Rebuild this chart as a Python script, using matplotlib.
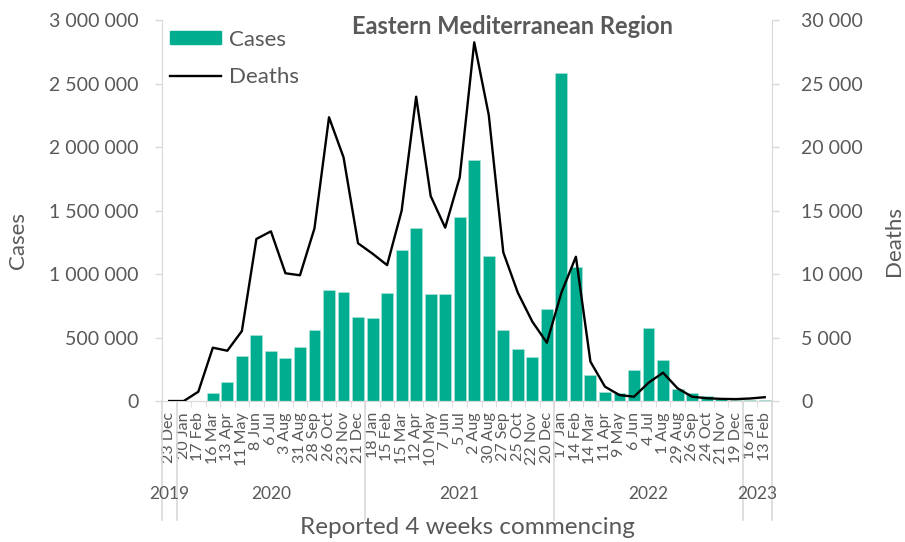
import numpy as np
import matplotlib.pyplot as plt
from matplotlib.ticker import FuncFormatter
from matplotlib.transforms import blended_transform_factory
from matplotlib.patches import Patch
from matplotlib.lines import Line2D

plt.rcParams["font.family"] = ["Lato", "DejaVu Sans"]

# 4-week periods (day month), grouped by year
periods = ["23 Dec",
           "20 Jan", "17 Feb", "16 Mar", "13 Apr", "11 May", "8 Jun", "6 Jul",
           "3 Aug", "31 Aug", "28 Sep", "26 Oct", "23 Nov", "21 Dec",
           "18 Jan", "15 Feb", "15 Mar", "12 Apr", "10 May", "7 Jun", "5 Jul",
           "2 Aug", "30 Aug", "27 Sep", "25 Oct", "22 Nov", "20 Dec",
           "17 Jan", "14 Feb", "14 Mar", "11 Apr", "9 May", "6 Jun", "4 Jul",
           "1 Aug", "29 Aug", "26 Sep", "24 Oct", "21 Nov", "19 Dec",
           "16 Jan", "13 Feb"]
years = ["2019", "2020", "2021", "2022", "2023"]
year_counts = [1, 13, 13, 13, 2]

cases = [0, 0, 2000, 66000, 147000, 357000, 517000, 391000,
         336000, 425000, 557000, 872000, 856000, 659000,
         651000, 848000, 1190000, 1360000, 840000, 846000, 1450000,
         1898000, 1144000, 562000, 409000, 349000, 724000,
         2585000, 1057000, 202000, 73000, 66000, 244000, 572000,
         323000, 97000, 60000, 39000, 15000, 8000,
         5000, 5000]
deaths = [0, 0, 730, 4200, 3960, 5510, 12760, 13360,
          10060, 9900, 13600, 22340, 19190, 12420,
          11600, 10700, 14980, 23960, 16140, 13650, 17610,
          28240, 22520, 11710, 8530, 6250, 4590,
          8530, 11360, 3100, 1130, 470, 340, 1440,
          2230, 1000, 340, 220, 170, 150,
          200, 300]

TEAL = "#00AE8F"
GRAY_TXT = "#595959"
GRAY_LINE = "#D9D9D9"


def spaced(v, pos):
    return f"{int(v):,}".replace(",", " ")


fig = plt.figure(figsize=(9.05, 5.42), dpi=100)
ax = fig.add_axes([0.179, 0.2601, 0.674, 0.703])
ax2 = ax.twinx()

x = np.arange(len(periods))
ax.bar(x, cases, width=0.82, color=TEAL, edgecolor="#B8E6DC", linewidth=0.4,
       zorder=2)
ax2.plot(x, deaths, color="black", linewidth=1.7, zorder=3)

ax.set_xlim(-0.5, len(periods) - 0.5)
ax.set_ylim(0, 3000000)
ax2.set_ylim(0, 30000)
ax.set_yticks(np.arange(0, 3000001, 500000))
ax2.set_yticks(np.arange(0, 30001, 5000))
ax.yaxis.set_major_formatter(FuncFormatter(spaced))
ax2.yaxis.set_major_formatter(FuncFormatter(spaced))

for a in (ax, ax2):
    for s in a.spines.values():
        s.set_color(GRAY_LINE)
    a.spines["top"].set_visible(False)
ax.spines["right"].set_visible(False)
ax2.spines["left"].set_visible(False)
ax.tick_params(axis="y", colors=GRAY_LINE, labelcolor=GRAY_TXT,
               labelsize=14, length=5, width=1, pad=12)
ax2.tick_params(axis="y", colors=GRAY_LINE, labelcolor=GRAY_TXT,
                labelsize=14, length=5, width=1, pad=16)

ax.set_xticks(x)
ax.set_xticklabels(periods, rotation=90, fontsize=11.5, color=GRAY_TXT,
                   va="top")
ax.tick_params(axis="x", length=0, pad=8)
ax.set_xticks(np.arange(-0.5, len(periods), 1), minor=True)
ax.tick_params(axis="x", which="minor", length=4, color=GRAY_LINE)

# year group separators and labels below the date labels
trans = blended_transform_factory(ax.transData, ax.transAxes)
bounds = np.concatenate([[0], np.cumsum(year_counts)]) - 0.5
for b in bounds:
    ax.plot([b, b], [0, -0.312], transform=trans, color=GRAY_LINE,
            linewidth=1.2, clip_on=False)
for yr, lo, hi in zip(years, bounds[:-1], bounds[1:]):
    ax.text((lo + hi) / 2, -0.245, yr, transform=trans, ha="center",
            va="center", fontsize=12.5, color=GRAY_TXT)

ax.set_ylabel("Cases", fontsize=16, color=GRAY_TXT)
ax.yaxis.set_label_coords(-0.22, 0.42)
ax2.set_ylabel("Deaths", fontsize=16, color=GRAY_TXT)
ax2.yaxis.set_label_coords(1.183, 0.42)
ax.text(0.5, -0.331, "Reported 4 weeks commencing", transform=ax.transAxes,
        ha="center", va="center", fontsize=17.5, color=GRAY_TXT)

ax.text(0.574, 0.982, "Eastern Mediterranean Region", transform=ax.transAxes,
        ha="center", va="center", fontsize=17, fontweight="bold",
        color=GRAY_TXT)

handles = [Patch(facecolor=TEAL, edgecolor=TEAL),
           Line2D([0], [0], color="black", linewidth=1.7)]
ax2.legend(handles, ["Cases", "Deaths"], loc="upper left",
           bbox_to_anchor=(0.013, 0.975), frameon=False, fontsize=16,
           labelcolor=GRAY_TXT, handlelength=2.3, handleheight=0.55,
           handletextpad=0.35, labelspacing=0.8, borderpad=0,
           borderaxespad=0)

fig.savefig("out.png", dpi=100, facecolor="white")
